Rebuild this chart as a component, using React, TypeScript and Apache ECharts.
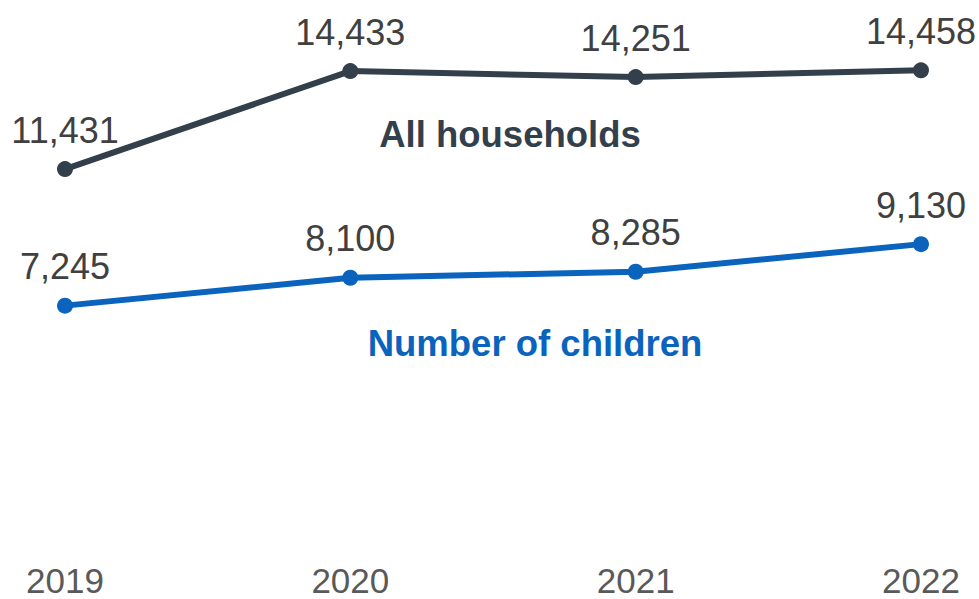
import React, { useEffect, useRef } from "react";
import * as echarts from "echarts";

const years = ["2019", "2020", "2021", "2022"];
const allHouseholds = [11431, 14433, 14251, 14458];
const children = [7245, 8100, 8285, 9130];
const seriesNames = ["All households", "Number of children"];

const DARK = "#333F4B";
const BLUE = "#0A64BE";
const FONT = "Liberation Sans, Arial, sans-serif";

export default function App() {
  const ref = useRef<HTMLDivElement>(null);
  useEffect(() => {
    if (!ref.current) return;
    const chart = echarts.init(ref.current, null, { renderer: "svg" });
    const labelCfg = {
      show: true,
      position: "top",
      distance: 13,
      fontSize: 36,
      color: "#404040",
      fontFamily: FONT,
      formatter: (p: any) => Number(p.value).toLocaleString("en-US"),
    };
    chart.setOption({
      animation: false,
      grid: { left: 65, right: 58, top: 20, bottom: 57, containLabel: false },
      xAxis: {
        type: "category",
        data: years,
        boundaryGap: false,
        axisLine: { show: false },
        axisTick: { show: false },
        axisLabel: {
          fontSize: 35,
          color: "#595959",
          margin: 21,
          fontFamily: FONT,
        },
      },
      yAxis: {
        type: "value",
        min: 0,
        max: 16000,
        show: false,
        splitLine: { show: false },
      },
      graphic: [
        {
          type: "text",
          x: 510,
          y: 134,
          style: {
            text: seriesNames[0],
            fill: DARK,
            fontSize: 36.5,
            fontWeight: "bold",
            fontFamily: FONT,
            textAlign: "center",
            textVerticalAlign: "middle",
          },
        },
        {
          type: "text",
          x: 535,
          y: 343,
          style: {
            text: seriesNames[1],
            fill: BLUE,
            fontSize: 36.5,
            fontWeight: "bold",
            fontFamily: FONT,
            textAlign: "center",
            textVerticalAlign: "middle",
          },
        },
      ],
      series: [
        {
          name: seriesNames[0],
          type: "line",
          data: allHouseholds,
          symbol: "circle",
          symbolSize: 16,
          lineStyle: { color: DARK, width: 6 },
          itemStyle: { color: DARK },
          label: labelCfg,
        },
        {
          name: seriesNames[1],
          type: "line",
          data: children,
          symbol: "circle",
          symbolSize: 16,
          lineStyle: { color: BLUE, width: 6 },
          itemStyle: { color: BLUE },
          label: labelCfg,
        },
      ],
    });
    return () => chart.dispose();
  }, []);
  return <div ref={ref} style={{ width: 979, height: 599, position: "absolute", left: 0, top: 0 }} />;
}
